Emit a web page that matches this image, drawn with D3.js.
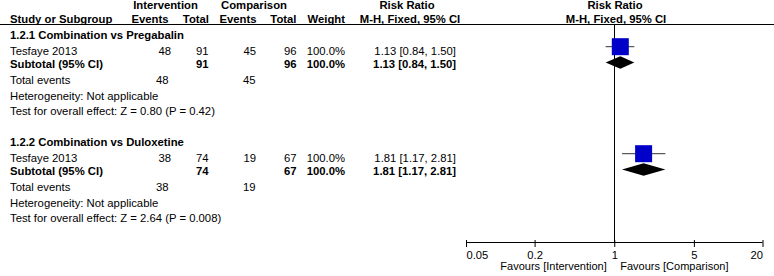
<!DOCTYPE html>
<html>
<head>
<meta charset="utf-8">
<script src="https://cdn.jsdelivr.net/npm/d3@7"></script>
<style>
  html, body { margin: 0; padding: 0; background: #fff; }
  svg { display: block; font-family: "Liberation Sans", Arial, sans-serif; font-size: 11.3px; }
</style>
</head>
<body>
<svg id="chart" width="774" height="276"></svg>
<script>
// ---- data ----
const groupTitles = ["1.2.1 Combination vs Pregabalin", "1.2.2 Combination vs Duloxetine"];
const studyNames = ["Tesfaye 2013", "Tesfaye 2013"];
const intEvents = [48, 38];
const intTotals = [91, 74];
const compEvents = [45, 19];
const compTotals = [96, 67];
const weights = ["100.0%", "100.0%"];
const rrEst = [1.13, 1.81];
const rrLow = [0.84, 1.17];
const rrHigh = [1.50, 2.81];
const heterogeneity = ["Not applicable", "Not applicable"];
const overallEffect = ["Z = 0.80 (P = 0.42)", "Z = 2.64 (P = 0.008)"];
const tickValues = [0.05, 0.2, 1, 5, 20];
const tickLabels = ["0.05", "0.2", "1", "5", "20"];

// ---- layout ----
const svg = d3.select("#chart");
const W = 774;
const x = d3.scaleLog().domain([0.05, 20]).range([466, 762.5]);
const axisY = 242;
const groupStart = [38.5, 145.5];
const rowOff = { study: 16, subtotal: 29.5, total: 45.5, het: 61, test: 76 };
const fmt = d3.format(".2f");

function txt(xp, yp, s, anchor, bold) {
  svg.append("text").attr("x", xp).attr("y", yp)
    .attr("text-anchor", anchor || "start")
    .attr("font-weight", bold ? "bold" : "normal")
    .attr("fill", "#000")
    .text(s);
}

// headers
txt(165.5, 9, "Intervention", "middle", true);
txt(254, 9, "Comparison", "middle", true);
txt(407, 9, "Risk Ratio", "middle", true);
txt(615, 9, "Risk Ratio", "middle", true);
txt(10, 22.5, "Study or Subgroup", "start", true);
txt(168.5, 22.5, "Events", "end", true);
txt(209, 22.5, "Total", "end", true);
txt(256.5, 22.5, "Events", "end", true);
txt(296.5, 22.5, "Total", "end", true);
txt(345, 22.5, "Weight", "end", true);
txt(410, 22.5, "M-H, Fixed, 95% CI", "middle", true);
txt(616, 22.5, "M-H, Fixed, 95% CI", "middle", true);

svg.append("line").attr("x1", 0).attr("x2", W).attr("y1", 24.5).attr("y2", 24.5)
  .attr("stroke", "#000").attr("stroke-width", 1);

// vertical null line
svg.append("line").attr("x1", Math.round(x(1)) + 0.5).attr("x2", Math.round(x(1)) + 0.5)
  .attr("y1", 24).attr("y2", axisY).attr("stroke", "#000").attr("stroke-width", 1);

groupTitles.forEach((g, i) => {
  const y0 = groupStart[i];
  const ys = y0 + rowOff.study, yst = y0 + rowOff.subtotal;
  txt(10, y0, g, "start", true);
  // study row
  txt(10, ys, studyNames[i]);
  txt(171, ys, intEvents[i], "end");
  txt(208.5, ys, intTotals[i], "end");
  txt(256, ys, compEvents[i], "end");
  txt(296.5, ys, compTotals[i], "end");
  txt(345, ys, weights[i], "end");
  const ci = `${fmt(rrEst[i])} [${fmt(rrLow[i])}, ${fmt(rrHigh[i])}]`;
  txt(456, ys, ci, "end");
  // subtotal
  txt(10, yst, "Subtotal (95% CI)", "start", true);
  txt(208.5, yst, intTotals[i], "end", true);
  txt(296.5, yst, compTotals[i], "end", true);
  txt(345, yst, weights[i], "end", true);
  txt(456, yst, ci, "end", true);
  // total events etc.
  txt(10, y0 + rowOff.total, "Total events");
  txt(168.5, y0 + rowOff.total, intEvents[i], "end");
  txt(255.5, y0 + rowOff.total, compEvents[i], "end");
  txt(10, y0 + rowOff.het, "Heterogeneity: " + heterogeneity[i]);
  txt(10, y0 + rowOff.test, "Test for overall effect: " + overallEffect[i]);

  // graphics
  const cy = ys - 7.8;
  svg.append("line").attr("x1", x(rrLow[i])).attr("x2", x(rrHigh[i]))
    .attr("y1", cy).attr("y2", cy).attr("stroke", "#333").attr("stroke-width", 1);
  const sz = 17;
  svg.append("rect").attr("x", x(rrEst[i]) - sz / 2).attr("y", cy - sz / 2)
    .attr("width", sz).attr("height", sz).attr("fill", "#0000c8");
  const dy = yst - 5.5;
  const pts = [[x(rrLow[i]), dy], [x(rrEst[i]), dy - 6.2], [x(rrHigh[i]), dy], [x(rrEst[i]), dy + 6.2]];
  svg.append("polygon").attr("points", pts.map(p => p.join(",")).join(" ")).attr("fill", "#000");
});

// axis
const axis = d3.axisBottom(x).tickValues(tickValues)
  .tickFormat((d, i) => tickLabels[i]).tickSize(5).tickPadding(6);
const ag = svg.append("g").attr("transform", `translate(0,${axisY})`).call(axis);
ag.select(".domain").attr("d", `M${x(0.05)},0.5H${x(20)}`).attr("stroke", "#000");
ag.selectAll(".tick line").attr("y1", -2).attr("y2", 5).attr("stroke", "#000");
ag.selectAll(".tick text").attr("font-size", 11.2).attr("font-family", "Liberation Sans, Arial, sans-serif")
  .attr("fill", "#000")
  .attr("text-anchor", (d, i) => i === 0 ? "start" : (i === tickValues.length - 1 ? "end" : "middle"));
ag.selectAll(".tick text").attr("dy", null).attr("y", 17);

svg.append("text").attr("x", x(1) - 7.5).attr("y", 270).attr("text-anchor", "end")
  .attr("font-size", 11).attr("fill", "#000").text("Favours [Intervention]");
svg.append("text").attr("x", x(1) + 6).attr("y", 270).attr("text-anchor", "start")
  .attr("font-size", 11).attr("fill", "#000").text("Favours [Comparison]");
</script>
</body>
</html>
